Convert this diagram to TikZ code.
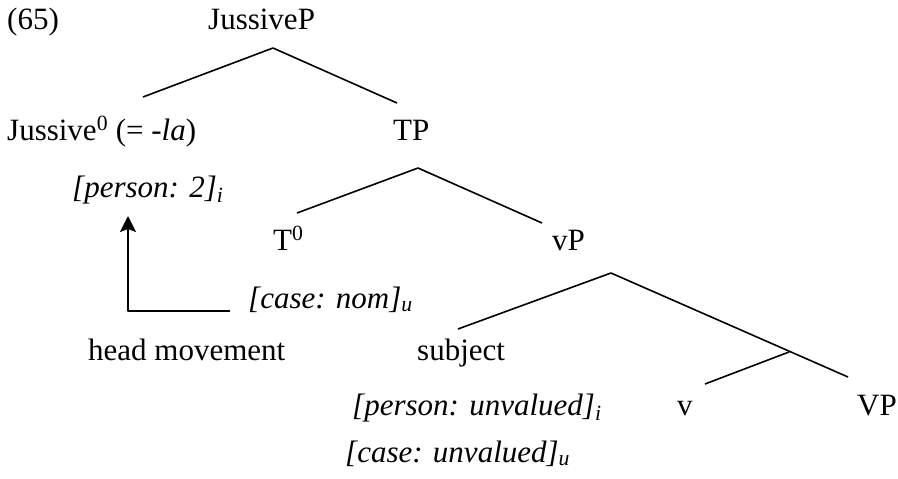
\documentclass[tikz,border=0pt]{standalone}
\usepackage{fontspec}
\setmainfont{Liberation Serif}
\usetikzlibrary{arrows.meta}

\begin{document}
\begin{tikzpicture}[x=1pt, y=-1pt, line join=bevel]
    \tikzset{%
      label_text/.style = {anchor=base west, inner sep=0pt,
                           font=\fontsize{31}{37}\selectfont},
      branch/.style     = {line width=1.6pt},
      move_arrow/.style = {line width=1.6pt,
                           -{Stealth[length=16pt,width=16pt,inset=3pt]}}
    }
    \useasboundingbox (0,0) rectangle (898,479);

    % labels of the tree
    \node[label_text] (ex)        at (7,30)    {(65)};
    \node[label_text] (jussiveP)  at (208,30)  {JussiveP};
    \node[label_text] (jussive)   at (7,140)   {Jussive\textsuperscript{0} (= \textit{-la})};
    \node[label_text] (tp)        at (393,140) {TP};
    \node[label_text] (person2)   at (72,197)  {\textit{[person: 2]\textsubscript{i}}};
    \node[label_text] (t0)        at (273,250) {T\textsuperscript{0}};
    \node[label_text] (vp)        at (552,250) {vP};
    \node[label_text] (casenom)   at (248,308) {\textit{[case: nom]\textsubscript{u}}};
    \node[label_text] (headmove)  at (88,360)  {head movement};
    \node[label_text] (subject)   at (417,360) {subject};
    \node[label_text] (personunv) at (352,415) {\textit{[person: unvalued]\textsubscript{i}}};
    \node[label_text] (v)         at (677,415) {v};
    \node[label_text] (VP)        at (857,415) {VP};
    \node[label_text] (caseunv)   at (345,462) {\textit{[case: unvalued]\textsubscript{u}}};

    % branch points
    \coordinate (jp-top) at (273,48);
    \coordinate (jp-l)   at (143,97);
    \coordinate (jp-r)   at (397,103);
    \coordinate (tp-top) at (418,168);
    \coordinate (tp-l)   at (297,213);
    \coordinate (tp-r)   at (542,223);
    \coordinate (vp-top) at (611,273);
    \coordinate (vp-l)   at (458,329);
    \coordinate (vp-r)   at (848,377);
    \coordinate (vb-top) at (789,352);
    \coordinate (vb-l)   at (705,384);

    \foreach \top/\left/\right in {jp-top/jp-l/jp-r, tp-top/tp-l/tp-r, vp-top/vp-l/vp-r}{
      \draw[branch] (\left) -- (\top) -- (\right);
    }
    \draw[branch] (vb-top) -- (vb-l);

    % head movement arrow
    \coordinate (hm-start) at (230,311);
    \coordinate (hm-end)   at (128,216);
    \draw[move_arrow] (hm-start) -| (hm-end);
\end{tikzpicture}
\end{document}
